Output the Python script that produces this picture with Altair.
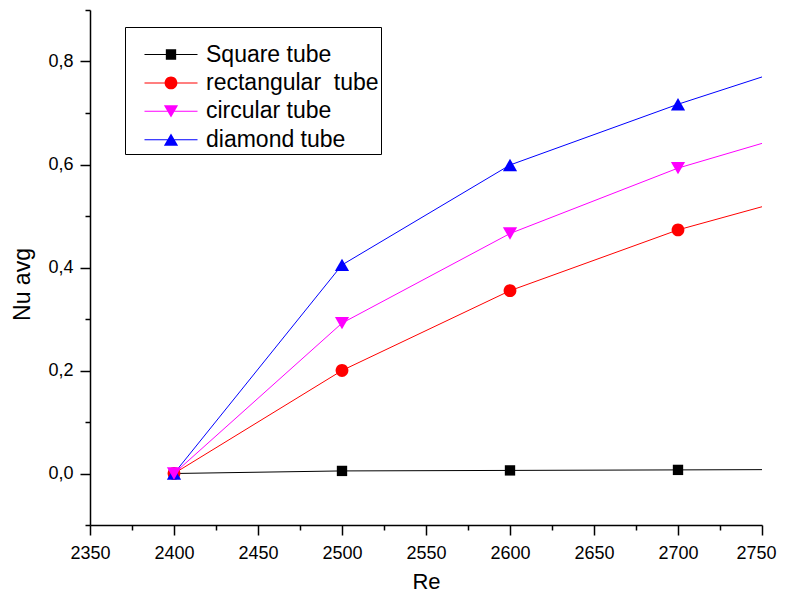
import altair as alt
import pandas as pd

# ---- data ----
re_values = [2400, 2500, 2600, 2700, 2800]
series_names = ["Square tube", "rectangular\u00a0 tube", "circular tube", "diamond tube"]
square_tube = [0.000, 0.005, 0.006, 0.007, 0.008]
rectangular_tube = [0.000, 0.200, 0.355, 0.473, 0.563]
circular_tube = [0.000, 0.292, 0.466, 0.593, 0.689]
diamond_tube = [0.000, 0.405, 0.599, 0.717, 0.823]

x_major_ticks = [2350, 2400, 2450, 2500, 2550, 2600, 2650, 2700, 2750]
x_minor_ticks = [2375, 2425, 2475, 2525, 2575, 2625, 2675, 2725]
y_major_ticks = [0.0, 0.2, 0.4, 0.6, 0.8]
y_minor_ticks = [-0.1, 0.1, 0.3, 0.5, 0.7, 0.9]

series_colors = ["#000000", "#ff0000", "#ff00ff", "#0000ff"]

# marker outlines (unit coordinates, drawn at symbol size 121)
square_path = "M-0.94,-0.94H0.94V0.94H-0.94Z"
circle_path = "M-1.16,0A1.16,1.16 0 1,1 1.16,0A1.16,1.16 0 1,1 -1.16,0Z"
tri_down_path = "M-1.29,-1.12L1.29,-1.12L0,1.12Z"
tri_up_path = "M0,-1.12L1.29,1.12L-1.29,1.12Z"
legend_line_path = "M-4.82,-0.09H4.82V0.09H-4.82Z"
marker_paths = [square_path, circle_path, tri_down_path, tri_up_path]
legend_paths = [legend_line_path + " " + p for p in marker_paths]

values_by_series = [square_tube, rectangular_tube, circular_tube, diamond_tube]
draw_order = [0, 1, 3, 2]
rows = []
for i in draw_order:
    for xv, yv in zip(re_values, values_by_series[i]):
        rows.append({"Re": xv, "Nu": yv, "series": series_names[i]})
df = pd.DataFrame(rows)

FONT = "Liberation Sans"
x_scale = alt.Scale(domain=[2350, 2750], nice=False, zero=False)
y_scale = alt.Scale(domain=[-0.1, 0.9], nice=False, zero=False)
color_scale = alt.Scale(domain=series_names, range=series_colors)

axis_common = dict(
    grid=False, domainColor="black", domainWidth=1.5, tickColor="black", tickWidth=1.5,
    labelColor="black", labelFont=FONT, labelFontSize=18, titleFont=FONT,
    titleFontWeight="normal", titleColor="black", labelOverlap=False, labelFlush=False,
    labelBound=False,
)
x_major_axis = alt.Axis(
    values=x_major_ticks, format="d", tickSize=10, labelPadding=9, title="Re",
    labelOffset={"condition": {"test": "datum.value == 2750", "value": -6}, "value": 0},
    titleFontSize=22, titleX=336, titleY=63, titleAlign="center", titleBaseline="alphabetic",
    orient="bottom", **axis_common,
)
y_major_axis = alt.Axis(
    values=y_major_ticks, labelExpr="replace(format(datum.value, '.1f'), '.', ',')",
    tickSize=10, labelPadding=7, title="Nu avg", titleFontSize=23, titleX=-61, titleY=274,
    titleAngle=270, titleAlign="center", titleBaseline="alphabetic", orient="left",
    **axis_common,
)
x_minor_axis = alt.Axis(values=x_minor_ticks, labels=False, domain=False, tickSize=5,
                        tickColor="black", tickWidth=1.5, grid=False, title=None, orient="bottom")
y_minor_axis = alt.Axis(values=y_minor_ticks, labels=False, domain=False, tickSize=5,
                        tickColor="black", tickWidth=1.5, grid=False, title=None, orient="left")

legend_def = alt.Legend(
    orient="none", legendX=35, legendY=17, title=" ", titleFontSize=6, titlePadding=8,
    symbolSize=121, symbolStrokeWidth=0, symbolOffset=32.5, labelOffset=23.5,
    labelFont=FONT, labelFontSize=23, labelColor="black", labelLimit=400,
    padding=2, rowPadding=4.4, strokeColor="black", fillColor="white", symbolOpacity=1,
)

lines = alt.Chart(df).mark_line(strokeWidth=1, clip=True).encode(
    x=alt.X("Re:Q", scale=x_scale, axis=x_major_axis),
    y=alt.Y("Nu:Q", scale=y_scale, axis=y_major_axis),
    color=alt.Color("series:N", scale=color_scale, legend=None),
)

points = alt.Chart(df).mark_point(filled=True, opacity=1, size=121, clip=True).encode(
    x=alt.X("Re:Q", scale=x_scale, axis=x_minor_axis),
    y=alt.Y("Nu:Q", scale=y_scale, axis=y_minor_axis),
    color=alt.Color("series:N", scale=color_scale, legend=None),
    shape=alt.Shape("series:N", scale=alt.Scale(domain=series_names, range=marker_paths), legend=None),
)

legend_layer = alt.Chart(df).transform_filter("false").mark_point(filled=True, opacity=1).encode(
    color=alt.Color("series:N", scale=color_scale, legend=legend_def),
    shape=alt.Shape("series:N", scale=alt.Scale(domain=series_names, range=legend_paths), legend=legend_def),
)

chart = (
    alt.layer(lines, points, legend_layer)
    .resolve_scale(shape="independent", color="independent")
    .resolve_axis(x="independent", y="independent")
    .properties(
        width=672, height=515,
        padding={"left": 82, "top": 2, "right": 15, "bottom": 68},
        autosize=alt.AutoSizeParams(type="none"),
    )
    .configure(font=FONT)
    .configure_view(stroke="transparent")
)

chart.save("out.html", embed_options={"renderer": "svg", "actions": False})
